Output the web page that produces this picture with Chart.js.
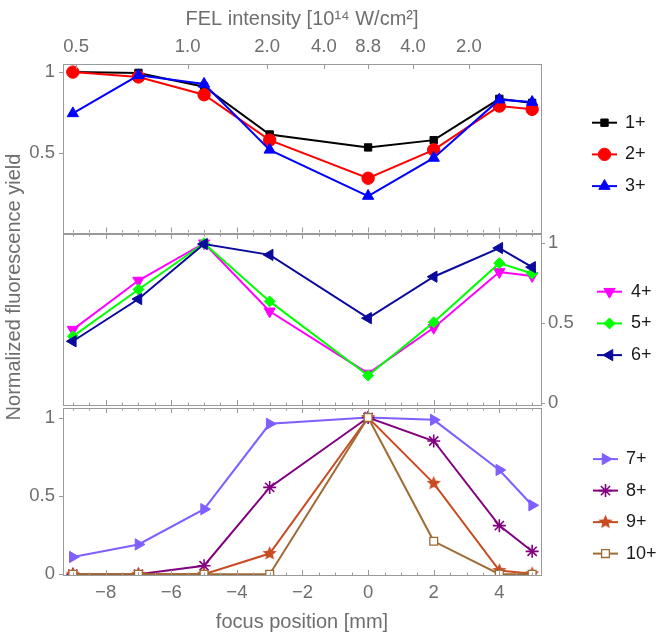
<!DOCTYPE html>
<html>
<head>
<meta charset="utf-8">
<script src="https://cdn.jsdelivr.net/npm/chart.js@4/dist/chart.umd.min.js"></script>
<style>
  body { margin: 0; background: #fff; }
  #wrap { position: relative; width: 659px; height: 638px; }
  canvas { position: absolute; left: 0; }
</style>
</head>
<body>
<div id="wrap">
  <canvas id="top" width="659" height="240" style="top:0"></canvas>
  <canvas id="bottom" width="659" height="238" style="top:400px"></canvas>
  <canvas id="middle" width="659" height="400" style="top:130px"></canvas>
</div>
<script>
// focus positions [mm]
const focusPos = [-9, -7, -5, -3, 0, 2, 4, 5];

// top panel
const ion1 = [1.0, 0.995, 0.91, 0.615, 0.535, 0.58, 0.835, 0.81];
const ion2 = [1.0, 0.97, 0.86, 0.58, 0.345, 0.52, 0.79, 0.77];
const ion3 = [0.745, 0.98, 0.927, 0.52, 0.235, 0.47, 0.83, 0.815];
// middle panel
const ion4 = [0.458, 0.766, 1.0, 0.573, 0.183, 0.47, 0.82, 0.795];
const ion5 = [0.416, 0.71, 1.0, 0.635, 0.17, 0.504, 0.875, 0.81];
const ion6 = [0.385, 0.65, 0.995, 0.927, 0.53, 0.79, 0.97, 0.85];
// bottom panel
const ion7 = [0.11, 0.19, 0.415, 0.96, 1.0, 0.985, 0.665, 0.44];
const ion8 = [0, 0, 0.054, 0.554, 1.0, 0.85, 0.31, 0.146];
const ion9 = [0, 0, 0, 0.132, 1.0, 0.58, 0.023, 0.003];
const ion10 = [0, 0, 0, 0, 1.0, 0.21, 0, 0];

// ticks
const focusTicks = [-8, -6, -4, -2, 0, 2, 4];
const felTickPos = [-8.9, -5.5, -3.08, -1.35, 0, 1.37, 3.07];
const felTickLabels = ["0.5", "1.0", "2.0", "4.0", "8.8", "4.0", "2.0"];

const X_MIN = -9.3, X_MAX = 5.27;
const GRAY = "#6e6e6e";
const FRAME = "#9a9a9a";
const FONT = '"Liberation Sans", Arial, sans-serif';
const TICK_FONT = { size: 18.5 };
const TITLE_FONT = { size: 20 };

Chart.defaults.font.family = FONT;
Chart.defaults.color = GRAY;

function starImage(color, r) {
  const c = document.createElement("canvas");
  const s = Math.ceil(r * 2 + 2);
  c.width = c.height = s;
  const g = c.getContext("2d");
  g.fillStyle = color;
  g.beginPath();
  for (let k = 0; k < 10; k++) {
    const rr = k % 2 ? r * 0.45 : r;
    const a = -Math.PI / 2 + (k * Math.PI) / 5;
    g.lineTo(s / 2 + rr * Math.cos(a), s / 2 + rr * Math.sin(a));
  }
  g.closePath();
  g.fill();
  return c;
}

function series(label, values, color, style, radius, extra) {
  return Object.assign({
    label,
    data: focusPos.map((x, i) => ({ x, y: values[i] })),
    borderColor: color,
    backgroundColor: color,
    pointBackgroundColor: color,
    pointBorderColor: color,
    borderWidth: 2,
    tension: 0,
    pointStyle: style,
    pointRadius: radius,
    pointBorderWidth: 1,
    pointRotation: 0,
  }, extra || {});
}

// stop chart.js from reserving room for half tick labels at the edges
function noPad(s) {
  s.paddingTop = 0; s.paddingBottom = 0;
  s.paddingLeft = 0; s.paddingRight = 0;
}

// frame with inward ticks, Mathematica style
const framePlugin = {
  id: "frame",
  afterDraw(chart, args, opts) {
    const { ctx, chartArea: a, scales } = chart;
    const xs = scales.x, ys = scales.y;
    ctx.save();
    ctx.strokeStyle = FRAME;
    ctx.lineWidth = 1;
    ctx.strokeRect(Math.round(a.left) + 0.5, Math.round(a.top) + 0.5,
      Math.round(a.right - a.left), Math.round(a.bottom - a.top));
    ctx.beginPath();
    for (let v = -9; v <= 5; v += 0.5) {
      const px = Math.round(xs.getPixelForValue(v)) + 0.5;
      const len = v % 2 === 0 ? 5 : 2.5;
      ctx.moveTo(px, a.bottom); ctx.lineTo(px, a.bottom - len);
      if (!opts.felTop) { ctx.moveTo(px, a.top); ctx.lineTo(px, a.top + len); }
    }
    if (opts.felTop) {
      felTickPos.forEach(v => {
        const px = Math.round(xs.getPixelForValue(v)) + 0.5;
        ctx.moveTo(px, a.top); ctx.lineTo(px, a.top + 5);
      });
    }
    opts.yTicks.forEach(v => {
      const py = Math.round(ys.getPixelForValue(v)) + 0.5;
      if (opts.yRight) { ctx.moveTo(a.right, py); ctx.lineTo(a.right + 4, py); }
      else { ctx.moveTo(a.left, py); ctx.lineTo(a.left - 4, py); }
    });
    ctx.stroke();

    // shared y title, sits a bit above the middle panel's centre
    if (opts.yTitle) {
      ctx.translate(14, a.top + opts.yTitleOffset);
      ctx.rotate(-Math.PI / 2);
      ctx.fillStyle = GRAY;
      ctx.font = TITLE_FONT.size + "px " + FONT;
      ctx.textAlign = "center";
      ctx.textBaseline = "middle";
      ctx.fillText(opts.yTitle, 0, 0);
    }
    ctx.restore();
  }
};

// legend drawn to the right of each panel: line + marker + label
const sideLegend = {
  id: "sideLegend",
  afterDraw(chart, args, opts) {
    const { ctx, chartArea: a } = chart;
    ctx.save();
    chart.data.datasets.forEach((ds, i) => {
      const y = a.top + opts.first + i * opts.gap;
      const x0 = a.right + opts.lineStart, x1 = x0 + 25;
      ctx.strokeStyle = ds.borderColor;
      ctx.lineWidth = 2;
      ctx.beginPath(); ctx.moveTo(x0, y); ctx.lineTo(x1, y); ctx.stroke();
      ctx.fillStyle = ds.pointBackgroundColor;
      ctx.lineWidth = ds.pointBorderWidth;
      Chart.helpers.drawPoint(ctx, {
        pointStyle: ds.pointStyle, rotation: ds.pointRotation,
        radius: ds.pointRadius, borderWidth: ds.pointBorderWidth
      }, (x0 + x1) / 2, y);
      ctx.fillStyle = "#1a1a1a";
      ctx.font = "18px " + FONT;
      ctx.textBaseline = "middle";
      ctx.textAlign = "left";
      ctx.fillText(ds.label, x1 + opts.textGap, y);
    });
    ctx.restore();
  }
};

function yAxis(min, max, ticks, extra) {
  return Object.assign({
    type: "linear", min, max,
    afterBuildTicks: s => { s.ticks = ticks.map(v => ({ value: v })); },
    ticks: { callback: v => String(v), font: TICK_FONT, padding: 8 },
    grid: { display: false, drawTicks: false },
    border: { display: false },
    afterFit: s => { s.width = 63; noPad(s); }
  }, extra || {});
}

function baseOptions() {
  return {
    responsive: false,
    animation: false,
    events: [],
    plugins: { legend: { display: false }, tooltip: { enabled: false } },
  };
}

// top panel
const topDatasets = [
  series("1+", ion1, "#000000", "rect", 5.2),
  series("2+", ion2, "#ff0000", "circle", 6.2),
  series("3+", ion3, "#0000ff", "triangle", 6.5),
];
topDatasets.forEach((d, i) => { d.order = topDatasets.length - i; });

new Chart(document.getElementById("top"), {
  type: "line",
  data: { datasets: topDatasets },
  plugins: [framePlugin, sideLegend],
  options: Object.assign(baseOptions(), {
    layout: { padding: { right: 118, bottom: 6 } },
    scales: {
      x: {
        type: "linear", position: "top", min: X_MIN, max: X_MAX,
        afterBuildTicks: s => { s.ticks = felTickPos.map(v => ({ value: v })); },
        ticks: {
          callback: v => felTickLabels[felTickPos.indexOf(v)],
          font: TICK_FONT, padding: 6, maxRotation: 0, autoSkip: false
        },
        grid: { display: false, drawTicks: false },
        border: { display: false },
        title: { display: true, text: "FEL intensity [10¹⁴ W/cm²]", font: TITLE_FONT, padding: { top: 7, bottom: 2 } },
        afterFit: s => { s.height = 64; noPad(s); }
      },
      y: yAxis(0.01, 1.05, [0.5, 1])
    },
    plugins: Object.assign(baseOptions().plugins, {
      frame: { felTop: true, yTicks: [0.5, 1] },
      sideLegend: { first: 58.7, gap: 31.7, lineStart: 51, textGap: 8 }
    })
  })
});

// middle panel
const midDatasets = [
  series("4+", ion4, "#ff00ff", "triangle", 6.5, { pointRotation: 180 }),
  series("5+", ion5, "#00ff00", "rectRot", 5.5),
  series("6+", ion6, "#0a0a9c", "triangle", 6.5, { pointRotation: 270 }),
];
midDatasets.forEach((d, i) => { d.order = midDatasets.length - i; });

new Chart(document.getElementById("middle"), {
  type: "line",
  data: { datasets: midDatasets },
  plugins: [framePlugin, sideLegend],
  options: Object.assign(baseOptions(), {
    layout: { padding: { top: 104, bottom: 125 } },
    scales: {
      x: { type: "linear", min: X_MIN, max: X_MAX, display: false },
      y: yAxis(-0.015, 1.058, [0, 0.5, 1], { ticks: { display: false } }),
      yR: yAxis(-0.015, 1.058, [0, 0.5, 1], {
        position: "right",
        ticks: { callback: v => String(v), font: TICK_FONT, padding: 7 },
        afterFit: s => { s.width = 118; noPad(s); }
      })
    },
    plugins: Object.assign(baseOptions().plugins, {
      frame: { felTop: false, yRight: true, yTicks: [0, 0.5, 1],
               yTitle: "Normalized fluorescence yield", yTitleOffset: 53 },
      sideLegend: { first: 57.7, gap: 31.7, lineStart: 56, textGap: 9 }
    })
  })
});

// bottom panel
const botDatasets = [
  series("7+", ion7, "#7f5fff", "triangle", 6.5, { pointRotation: 90 }),
  series("8+", ion8, "#800080", "star", 6.5, { pointBorderWidth: 1.6 }),
  series("9+", ion9, "#c84b22", starImage("#c84b22", 7.5), 7),
  series("10+", ion10, "#9e6b34", "rect", 5.5, { pointBackgroundColor: "#ffffff", pointBorderWidth: 1.3 }),
];
botDatasets.forEach((d, i) => { d.order = botDatasets.length - i; });

new Chart(document.getElementById("bottom"), {
  type: "line",
  data: { datasets: botDatasets },
  plugins: [framePlugin, sideLegend],
  options: Object.assign(baseOptions(), {
    layout: { padding: { top: 5, right: 118 } },
    scales: {
      x: {
        type: "linear", position: "bottom", min: X_MIN, max: X_MAX,
        afterBuildTicks: s => { s.ticks = focusTicks.map(v => ({ value: v })); },
        ticks: {
          callback: v => (v < 0 ? "\u2212" + Math.abs(v) : String(v)),
          font: TICK_FONT, padding: 7, maxRotation: 0, autoSkip: false
        },
        grid: { display: false, drawTicks: false },
        border: { display: false },
        title: { display: true, text: "focus position [mm]", font: TITLE_FONT, padding: { top: 4, bottom: 4 } },
        afterFit: s => { s.height = 63; noPad(s); }
      },
      y: yAxis(-0.005, 1.06, [0, 0.5, 1])
    },
    plugins: Object.assign(baseOptions().plugins, {
      frame: { felTop: false, yTicks: [0, 0.5, 1] },
      sideLegend: { first: 51, gap: 31.5, lineStart: 52, textGap: 8 }
    })
  })
});
</script>
</body>
</html>
